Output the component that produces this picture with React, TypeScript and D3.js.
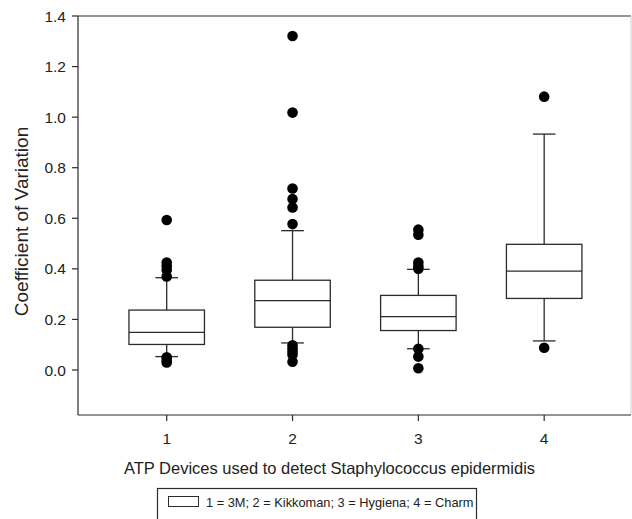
import React from "react";
import * as d3 from "d3";

const categories = [1, 2, 3, 4];
const q1 = [0.101, 0.169, 0.156, 0.283];
const medians = [0.149, 0.274, 0.211, 0.391];
const q3 = [0.237, 0.355, 0.295, 0.497];
const whiskerLow = [0.053, 0.107, 0.084, 0.115];
const whiskerHigh = [0.365, 0.551, 0.398, 0.933];
const outliers1 = [0.593, 0.425, 0.41, 0.395, 0.37, 0.05, 0.04, 0.03];
const outliers2 = [1.321, 1.018, 0.718, 0.676, 0.643, 0.577, 0.098, 0.085, 0.072, 0.06, 0.033];
const outliers3 = [0.555, 0.535, 0.425, 0.41, 0.4, 0.084, 0.053, 0.007];
const outliers4 = [1.081, 0.088];
const outliers = [outliers1, outliers2, outliers3, outliers4];
const yTicks = [0.0, 0.2, 0.4, 0.6, 0.8, 1.0, 1.2, 1.4];
const xTitle = "ATP Devices used to detect Staphylococcus epidermidis";
const yTitle = "Coefficient of Variation";
const legendText = "1 = 3M; 2 = Kikkoman; 3 = Hygiena; 4 = Charm";

const W = 632, H = 519;
const L = 78, T = 16, R = 631, B = 415;
const font = "Liberation Sans, Arial, sans-serif";
const ink = "#2b2b2b";

export default function App() {
  const x = d3.scaleLinear().domain([0.295, 4.69]).range([L, R]);
  const y = d3.scaleLinear().domain([-0.178, 1.4]).range([B, T]);
  const boxHalf = x(1.3) - x(1);
  const capHalf = x(1.09) - x(1);

  return (
    <svg width={W} height={H} style={{ position: "absolute", left: 0, top: 0, background: "#fff" }}>
      <rect x={0} y={0} width={W} height={H} fill="#fff" />
      {/* frame */}
      <line x1={L} y1={T} x2={R} y2={T} stroke={ink} strokeWidth={1.2} />
      <line x1={R} y1={T} x2={R} y2={B} stroke="#cfcfcf" strokeWidth={1} />
      <line x1={L} y1={T} x2={L} y2={B} stroke={ink} strokeWidth={1.2} />
      <line x1={L} y1={B} x2={R} y2={B} stroke={ink} strokeWidth={1.2} />
      {/* y ticks */}
      {yTicks.map((t) => (
        <g key={t}>
          <line x1={L - 6} x2={L} y1={y(t)} y2={y(t)} stroke={ink} strokeWidth={1.2} />
          <text x={L - 12} y={y(t)} dy="0.36em" textAnchor="end" fontFamily={font} fontSize={15.5} fill="#222">
            {d3.format(".1f")(t)}
          </text>
        </g>
      ))}
      {/* x ticks */}
      {categories.map((c) => (
        <g key={c}>
          <line x1={x(c)} x2={x(c)} y1={B} y2={B + 6} stroke={ink} strokeWidth={1.2} />
          <text x={x(c)} y={444} textAnchor="middle" fontFamily={font} fontSize={15.5} fill="#222">
            {c}
          </text>
        </g>
      ))}
      {/* boxes */}
      {categories.map((c, i) => {
        const cx = x(c);
        return (
          <g key={"b" + c} stroke={ink} strokeWidth={1.3} fill="none">
            <line x1={cx} x2={cx} y1={y(q3[i])} y2={y(whiskerHigh[i])} />
            <line x1={cx} x2={cx} y1={y(q1[i])} y2={y(whiskerLow[i])} />
            <line x1={cx - capHalf} x2={cx + capHalf} y1={y(whiskerHigh[i])} y2={y(whiskerHigh[i])} />
            <line x1={cx - capHalf} x2={cx + capHalf} y1={y(whiskerLow[i])} y2={y(whiskerLow[i])} />
            <rect x={cx - boxHalf} y={y(q3[i])} width={2 * boxHalf} height={y(q1[i]) - y(q3[i])} fill="#fff" />
            <line x1={cx - boxHalf} x2={cx + boxHalf} y1={y(medians[i])} y2={y(medians[i])} />
          </g>
        );
      })}
      {/* outliers */}
      {categories.map((c, i) =>
        outliers[i].map((v, j) => (
          <circle key={"o" + c + "-" + j} cx={x(c)} cy={y(v)} r={5.3} fill="#000" />
        ))
      )}
      {/* axis titles */}
      <text x={(L + R) / 2 - 25} y={474} textAnchor="middle" fontFamily={font} fontSize={16.5} fill="#222">
        {xTitle}
      </text>
      <text
        transform={`translate(${28},${(T + B) / 2 + 6}) rotate(-90)`}
        textAnchor="middle"
        fontFamily={font}
        fontSize={19}
        fill="#222"
      >
        {yTitle}
      </text>
      {/* legend */}
      <rect x={157.5} y={488.5} width={319} height={40} fill="#fff" stroke={ink} strokeWidth={1.2} />
      <rect x={168.5} y={496.5} width={30} height={10} fill="#fff" stroke={ink} strokeWidth={1} />
      <text x={206} y={506.5} fontFamily={font} fontSize={12.8} fill="#222">
        {legendText}
      </text>
    </svg>
  );
}
